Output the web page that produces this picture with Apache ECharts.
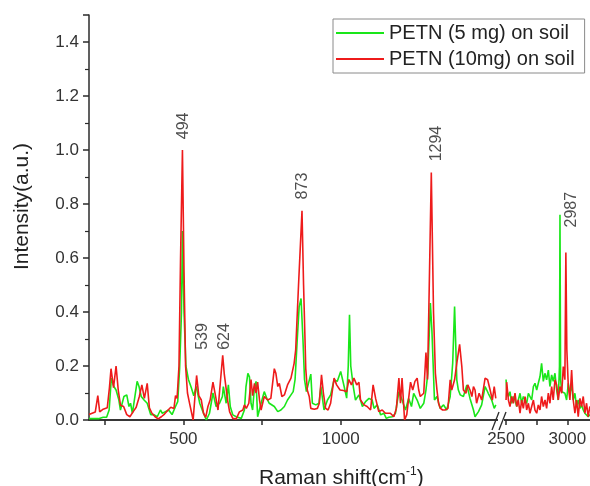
<!DOCTYPE html>
<html>
<head>
<meta charset="utf-8">
<script src="https://cdn.jsdelivr.net/npm/echarts@6/dist/echarts.min.js"></script>
<style>
html,body{margin:0;padding:0;background:#fff;}
#c{width:590px;height:486px;}
</style>
</head>
<body>
<div id="c"></div>
<script>
// ---- Data ----
const seriesNames = ['PETN (5 mg) on soil', 'PETN (10mg) on soil'];

// Segment 1 (200 - 1500 cm-1)
const greenX1 = [200,210,220,230,245,256,264,271,279,286,295,300,311,320,327,332,338,343,353,359,366,375,385,396,406,417,427,433,443,453,464,475,482,488,494,497,502,508,516,525,533,541,552,562,573,583,594,604,615,624,627,636,643,649,657,668,684,694,699,705,710,715,720,726,731,736,747,757,765,773,789,800,810,821,831,842,849,855,862,868,874,880,885,891,905,910,921,931,937,947,958,968,979,989,1000,1011,1019,1024,1028,1032,1040,1047,1058,1069,1079,1090,1100,1106,1116,1127,1137,1145,1153,1164,1174,1185,1195,1206,1216,1225,1232,1243,1253,1264,1271,1277,1285,1290,1298,1306,1316,1327,1337,1348,1356,1362,1369,1374,1380,1390,1401,1411,1422,1427,1438,1448,1459,1469,1480,1488,1493];
const greenY1 = [0.005,0.005,0.005,0.005,0.01,0.01,0.037,0.155,0.124,0.111,0.074,0.037,0.087,0.093,0.05,0.062,0.025,0.031,0.143,0.124,0.087,0.074,0.062,0.02,0.02,0.012,0.037,0.025,0.031,0.037,0.02,0.05,0.068,0.19,0.4,0.7,0.4,0.2,0.15,0.12,0.09,0.124,0.062,0.031,0.0,0.025,0.1,0.05,0.062,0.087,0.124,0.062,0.13,0.05,0.019,0.012,0.006,0.037,0.124,0.173,0.16,0.062,0.037,0.124,0.143,0.012,0.062,0.105,0.08,0.062,0.05,0.031,0.037,0.05,0.074,0.093,0.105,0.15,0.3,0.42,0.45,0.3,0.15,0.105,0.17,0.062,0.056,0.062,0.124,0.037,0.074,0.093,0.149,0.143,0.18,0.124,0.081,0.2,0.39,0.2,0.124,0.074,0.093,0.05,0.068,0.08,0.074,0.043,0.056,0.019,0.025,0.006,0.01,0.012,0.025,0.105,0.074,0.037,0.08,0.05,0.099,0.074,0.043,0.062,0.111,0.173,0.433,0.33,0.074,0.087,0.043,0.056,0.037,0.087,0.21,0.42,0.149,0.111,0.093,0.087,0.13,0.08,0.037,0.012,0.031,0.056,0.124,0.099,0.074,0.043,0.056];

const redX1 = [200,210,220,228,234,245,258,265,270,278,286,293,300,310,320,330,340,350,360,368,376,385,392,400,410,420,430,440,450,460,470,475,480,486,491,497,502,507,513,520,531,542,549,557,564,571,578,585,594,602,610,619,625,630,641,647,657,668,678,689,694,700,708,715,720,726,731,736,742,747,757,768,778,789,794,800,805,813,821,831,842,852,857,866,877,882,889,894,900,905,916,926,932,939,945,952,960,968,979,987,998,1009,1019,1026,1034,1042,1051,1058,1063,1074,1084,1095,1103,1111,1121,1132,1142,1150,1158,1169,1177,1185,1190,1195,1203,1210,1214,1222,1229,1236,1243,1248,1253,1264,1271,1276,1280,1288,1295,1301,1306,1311,1317,1324,1332,1341,1348,1353,1362,1369,1378,1385,1390,1398,1404,1411,1417,1422,1427,1432,1440,1448,1459,1467,1475,1482,1488,1493];
const redY1 = [0.02,0.025,0.03,0.09,0.03,0.04,0.045,0.12,0.19,0.12,0.2,0.11,0.055,0.05,0.02,0.012,0.03,0.047,0.087,0.13,0.08,0.136,0.045,0.025,0.012,0.004,0.012,0.022,0.035,0.047,0.043,0.09,0.08,0.2,0.6,1.0,0.55,0.2,0.1,0.06,0.0,0.165,0.09,0.074,0.025,0.01,0.05,0.074,0.14,0.09,0.037,0.16,0.24,0.17,0.07,0.03,0.006,0.004,0.03,0.037,0.056,0.043,0.062,0.15,0.09,0.136,0.1,0.14,0.074,0.037,0.087,0.074,0.08,0.19,0.173,0.124,0.136,0.087,0.093,0.13,0.155,0.21,0.26,0.5,0.775,0.5,0.19,0.11,0.087,0.043,0.04,0.043,0.062,0.167,0.1,0.043,0.037,0.062,0.155,0.13,0.111,0.109,0.105,0.15,0.13,0.155,0.13,0.14,0.074,0.056,0.05,0.037,0.13,0.08,0.031,0.037,0.025,0.025,0.025,0.012,0.043,0.155,0.062,0.155,0.0,0.02,0.025,0.14,0.111,0.143,0.155,0.111,0.087,0.099,0.25,0.15,0.4,0.917,0.4,0.173,0.111,0.062,0.043,0.037,0.037,0.043,0.149,0.111,0.149,0.21,0.28,0.198,0.111,0.099,0.13,0.111,0.087,0.124,0.111,0.062,0.099,0.074,0.155,0.149,0.111,0.074,0.124,0.08];

// Segment 2 (2500 - 3185 cm-1)
const greenX2 = [2500,2505,2519,2532,2546,2560,2573,2587,2600,2614,2627,2641,2655,2668,2682,2695,2709,2723,2736,2750,2763,2777,2790,2804,2817,2831,2845,2858,2872,2885,2899,2913,2926,2936,2940,2945,2954,2967,2980,2994,3008,3021,3035,3048,3062,3075,3089,3103,3116,3130,3143,3157,3170,3184];
const greenY2 = [0.15,0.111,0.087,0.105,0.062,0.087,0.074,0.05,0.074,0.099,0.062,0.087,0.074,0.062,0.099,0.087,0.074,0.124,0.136,0.111,0.136,0.161,0.21,0.143,0.173,0.149,0.185,0.124,0.167,0.143,0.173,0.111,0.074,0.2,0.76,0.15,0.105,0.105,0.099,0.074,0.136,0.099,0.13,0.074,0.099,0.05,0.074,0.043,0.056,0.037,0.025,0.031,0.012,0.02];
const redX2 = [2500,2505,2519,2532,2546,2560,2573,2587,2600,2614,2627,2641,2655,2668,2682,2695,2709,2723,2736,2750,2763,2777,2790,2804,2818,2831,2845,2858,2872,2885,2899,2913,2926,2940,2954,2967,2980,2988,2996,3008,3021,3035,3048,3062,3075,3089,3103,3116,3130,3143,3157,3170,3184];
const redY2 = [0.074,0.14,0.074,0.05,0.087,0.062,0.1,0.05,0.074,0.025,0.074,0.043,0.087,0.037,0.062,0.025,0.05,0.074,0.037,0.025,0.056,0.037,0.087,0.05,0.074,0.043,0.1,0.062,0.124,0.074,0.149,0.13,0.074,0.124,0.099,0.198,0.149,0.62,0.26,0.124,0.074,0.185,0.074,0.025,0.074,0.012,0.08,0.05,0.087,0.025,0.062,0.012,0.05];

// Peak annotations: [text, x (cm-1), y (bottom of label)]
const peakLabels1 = [['494', 502, 1.04], ['539', 562, 0.26], ['624', 630, 0.26], ['873', 879, 0.817], ['1294', 1306, 0.958]];
const peakLabels2 = [['2987', 3035, 0.713]];

// Axis ticks
const yMin = 0, yMax = 1.5, yInterval = 0.2;
const x1Ticks = [250, 500, 750, 1000, 1250];
const x1Labels = [500, 1000];
const x2Ticks = [2500, 2750, 3000];
const x2Labels = [2500, 3000];

// ---- Chart ----
const pair = (xs, ys) => xs.map((x, i) => [x, ys[i]]);
const GREEN = '#19e619', RED = '#ee1b1b', AX = '#2b2b2b';
const FONT = 'Liberation Sans, Arial, sans-serif';

const chart = echarts.init(document.getElementById('c'), null, {renderer: 'canvas'});

const baseX = {
  type: 'value', position: 'bottom',
  axisLine: {lineStyle: {color: AX, width: 1.5}},
  axisTick: {inside: false, length: 5, lineStyle: {color: AX, width: 1.5}},
  axisLabel: {color: '#333', fontSize: 17, fontFamily: FONT, margin: 11, formatter: v => String(v)},
  splitLine: {show: false}
};

const labelSeries = (labels, idx) => ({
  type: 'scatter', xAxisIndex: idx, yAxisIndex: idx, symbolSize: 0, silent: true,
  data: labels.map(l => ({value: [l[1], l[2]], name: l[0]})),
  label: {show: true, formatter: p => p.name, rotate: 90, position: [0, 0],
          align: 'left', verticalAlign: 'middle', color: '#222', fontSize: 16, fontFamily: FONT},
  z: 10
});

chart.setOption({
  backgroundColor: '#fff',
  animation: false,
  grid: [
    {left: 89, top: 15, width: 409, bottom: 66},
    {left: 503, top: 15, right: 0, bottom: 66},
    {left: 89, top: 15, right: 0, bottom: 66}
  ],
  xAxis: [
    Object.assign({}, baseX, {gridIndex: 0, min: 200, max: 1500,
      axisTick: Object.assign({}, baseX.axisTick, {customValues: x1Ticks}),
      axisLabel: Object.assign({}, baseX.axisLabel, {customValues: x1Labels})}),
    Object.assign({}, baseX, {gridIndex: 1, min: 2475, max: 3185,
      axisTick: Object.assign({}, baseX.axisTick, {customValues: x2Ticks}),
      axisLabel: Object.assign({}, baseX.axisLabel, {customValues: x2Labels})}),
    {gridIndex: 2, type: 'value', position: 'top', min: 0, max: 1,
      axisLine: {lineStyle: {color: AX, width: 1.5}}, axisTick: {show: false},
      axisLabel: {show: false}, splitLine: {show: false}}
  ],
  yAxis: [
    {gridIndex: 0, type: 'value', min: yMin, max: yMax, interval: yInterval,
      name: 'Intensity(a.u.)', nameLocation: 'middle', nameGap: 56,
      nameTextStyle: {color: '#222', fontSize: 21, fontFamily: FONT, padding: [0, 0, 0, 22]},
      axisLine: {show: true, lineStyle: {color: AX, width: 1.5}},
      axisTick: {show: true, length: 6, lineStyle: {color: AX, width: 1.5}},
      minorTick: {show: true, splitNumber: 2, length: 4, lineStyle: {color: AX, width: 1.2}},
      axisLabel: {color: '#333', fontSize: 17, fontFamily: FONT, margin: 10, showMaxLabel: false,
        formatter: v => v.toFixed(1)},
      splitLine: {show: false}},
    {gridIndex: 1, type: 'value', min: yMin, max: yMax, show: false},
    {gridIndex: 2, type: 'value', min: 0, max: 1, show: false}
  ],
  legend: {
    left: 333, top: 19, orient: 'vertical', data: seriesNames,
    icon: 'rect', itemWidth: 48, itemHeight: 2, itemGap: 6,
    padding: [4, 10, 4, 3], borderColor: '#8a8a8a', borderWidth: 1,
    textStyle: {color: '#222', fontSize: 20, fontFamily: FONT}
  },
  title: {
    text: 'Raman shift(cm{sup|-1})', left: 254, top: 461,
    textStyle: {color: '#222', fontSize: 21, fontWeight: 'normal', fontFamily: FONT,
      rich: {sup: {fontSize: 12, verticalAlign: 'top', padding: [0, 0, 12, 0], color: '#222', fontFamily: FONT}}}
  },
  series: [
    {name: seriesNames[0], type: 'line', xAxisIndex: 0, yAxisIndex: 0, data: pair(greenX1, greenY1),
      showSymbol: false, lineStyle: {color: GREEN, width: 1.6}, itemStyle: {color: GREEN}},
    {name: seriesNames[0], type: 'line', xAxisIndex: 1, yAxisIndex: 1, data: pair(greenX2, greenY2),
      showSymbol: false, lineStyle: {color: GREEN, width: 1.6}, itemStyle: {color: GREEN}},
    {name: seriesNames[1], type: 'line', xAxisIndex: 0, yAxisIndex: 0, data: pair(redX1, redY1),
      showSymbol: false, lineStyle: {color: RED, width: 1.6}, itemStyle: {color: RED}},
    {name: seriesNames[1], type: 'line', xAxisIndex: 1, yAxisIndex: 1, data: pair(redX2, redY2),
      showSymbol: false, lineStyle: {color: RED, width: 1.6}, itemStyle: {color: RED}},
    labelSeries(peakLabels1, 0),
    labelSeries(peakLabels2, 1)
  ],
  graphic: [
    {type: 'rect', shape: {x: 498, y: 410, width: 6, height: 20}, style: {fill: '#fff'}, z: 100},
    {type: 'line', shape: {x1: 492, y1: 430, x2: 499, y2: 412}, style: {stroke: AX, lineWidth: 1.3}, z: 101},
    {type: 'line', shape: {x1: 499, y1: 430, x2: 506, y2: 412}, style: {stroke: AX, lineWidth: 1.3}, z: 101}
  ]
});
</script>
</body>
</html>
